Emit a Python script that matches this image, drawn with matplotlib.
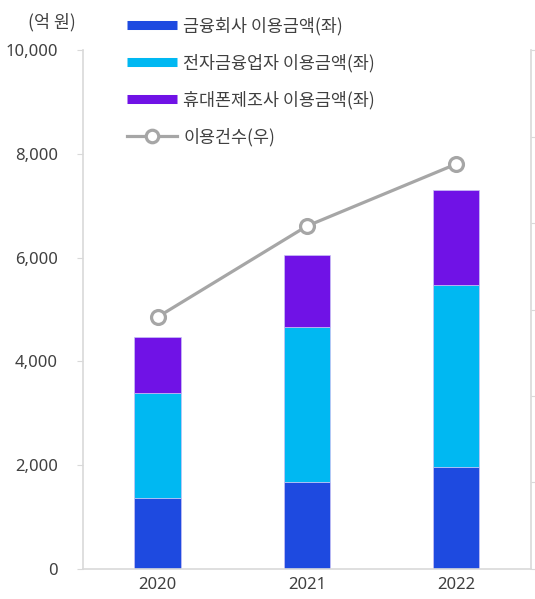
import matplotlib
matplotlib.use("Agg")
import numpy as np
from matplotlib import pyplot as plt
from matplotlib.lines import Line2D

plt.rcParams['font.family'] = ['Noto Sans CJK KR', 'DejaVu Sans']

# data
years = ["2020", "2021", "2022"]
bank_amount = [1360, 1670, 1970]        # 금융회사 이용금액 (억 원)
efin_amount = [2040, 3000, 3500]        # 전자금융업자 이용금액
phone_amount = [1070, 1380, 1840]       # 휴대폰제조사 이용금액
use_count = [2913, 3965, 4682]          # 이용건수 (right axis, labels not shown)

labels = ["금융회사 이용금액(좌)", "전자금융업자 이용금액(좌)",
          "휴대폰제조사 이용금액(좌)", "이용건수(우)"]
colors = ["#1E4AE0", "#00B8F2", "#7012E6"]
line_color = "#A6A6A6"
axis_color = "#D9D9D9"
text_color = "#404040"
num_font = ["Noto Sans", "DejaVu Sans"]

fig = plt.figure(figsize=(5.35, 5.99), dpi=100)
ax = fig.add_axes([0.155, 0.0501, 0.8375, 0.8664])

x = np.arange(len(years))
width = 0.31
bottom = np.zeros(len(years))
for vals, c in zip([bank_amount, efin_amount, phone_amount], colors):
    ax.bar(x, vals, width, bottom=bottom, color=c, edgecolor="#C9C2F5",
           linewidth=0.5, zorder=2)
    bottom += np.array(vals)

ax.set_xlim(-0.5, 2.5)
ax.set_ylim(0, 10000)
ax.set_yticks(np.arange(0, 10001, 2000))
ax.set_yticklabels([f"{v:,}" for v in range(0, 10001, 2000)],
                   family=num_font)
ax.set_xticks(x)
ax.set_xticklabels(years, family=num_font)
ax.tick_params(axis="y", direction="out", length=4, color=axis_color,
               labelsize=12, labelcolor=text_color, pad=14)
ax.tick_params(axis="x", length=0, labelsize=12, labelcolor=text_color, pad=6)
for s in ["top", "right"]:
    ax.spines[s].set_visible(False)
for s in ["left", "bottom"]:
    ax.spines[s].set_color(axis_color)
    ax.spines[s].set_linewidth(1.2)

ax2 = ax.twinx()
ax2.plot(x, use_count, color=line_color, linewidth=2.3, marker="o",
         markersize=10, markerfacecolor="white", markeredgecolor=line_color,
         markeredgewidth=2.3, zorder=3)
ax2.set_ylim(0, 6000)
ax2.set_yticks(np.arange(0, 6001, 1000))
ax2.set_yticklabels([])
ax2.tick_params(axis="y", direction="out", length=4, color=axis_color)
for s in ["top", "left", "bottom"]:
    ax2.spines[s].set_visible(False)
ax2.spines["right"].set_color(axis_color)
ax2.spines["right"].set_linewidth(1.2)

fig.text(0.097, 0.963, "(억 원)", ha="center", va="center",
         fontsize=12.5, color=text_color)

handles = [Line2D([0], [0], color=c, linewidth=6.5, solid_capstyle="butt")
           for c in colors]
handles.append(Line2D([0], [0], color=line_color, linewidth=2.3, marker="o",
                      markersize=9, markerfacecolor="white",
                      markeredgecolor=line_color, markeredgewidth=2.3))
fig.legend(handles, labels, loc="upper left", bbox_to_anchor=(0.237, 0.972),
           frameon=False, fontsize=12.5, labelspacing=1.07, handlelength=2.9,
           handletextpad=0.35, borderpad=0, borderaxespad=0,
           labelcolor=text_color)

fig.savefig("out.png", dpi=100)
